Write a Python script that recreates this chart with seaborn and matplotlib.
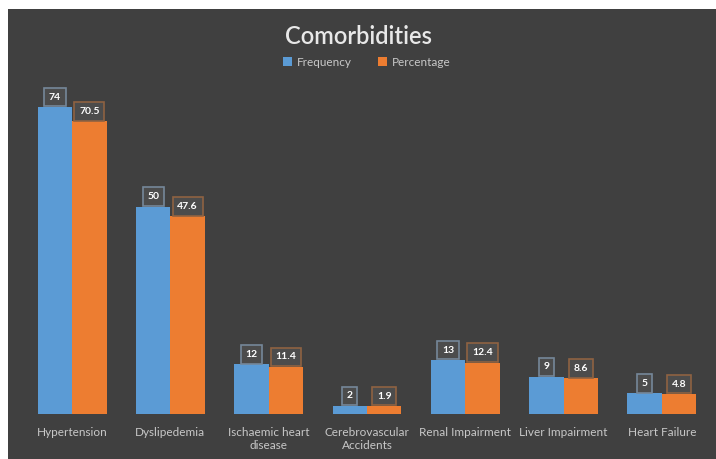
import matplotlib
matplotlib.use("Agg")
import matplotlib.pyplot as plt
import seaborn as sns
import pandas as pd
from matplotlib.patches import Rectangle

categories = ["Hypertension", "Dyslipedemia", "Ischaemic heart\ndisease",
              "Cerebrovascular\nAccidents", "Renal Impairment", "Liver Impairment",
              "Heart Failure"]
frequency = [74, 50, 12, 2, 13, 9, 5]
percentage = [70.5, 47.6, 11.4, 1.9, 12.4, 8.6, 4.8]
freq_labels = ["74", "50", "12", "2", "13", "9", "5"]
pct_labels = ["70.5", "47.6", "11.4", "1.9", "12.4", "8.6", "4.8"]
series = ["Frequency", "Percentage"]

df = pd.DataFrame({
    "Category": categories * 2,
    "Value": frequency + percentage,
    "Series": [series[0]] * len(categories) + [series[1]] * len(categories),
})

BG = "#404040"
BLUE = "#5B9BD5"
ORANGE = "#ED7D31"

sns.set_style("white")
plt.rcParams["font.family"] = ["Lato", "DejaVu Sans"]
fig = plt.figure(figsize=(7.16, 4.59), dpi=100)
fig.patch.set_facecolor("white")
fig.patches.append(Rectangle((8 / 716, 0), 1 - 8 / 716, 1 - 9 / 459,
                             transform=fig.transFigure, facecolor=BG,
                             edgecolor="none", zorder=-10))

ax = fig.add_axes([23 / 716, 1 - 414 / 459, (711 - 23) / 716, (414 - 82) / 459])
ax.set_facecolor(BG)
ax.patch.set_alpha(0)

sns.barplot(data=df, x="Category", y="Value", hue="Series",
            palette=[BLUE, ORANGE], width=0.7, ax=ax, saturation=1,
            edgecolor="none")

ax.set_ylim(0, 80)
ax.set_xlim(-0.5, len(categories) - 0.5)
ax.set_xlabel("")
ax.set_ylabel("")
ax.set_yticks([])
for s in ax.spines.values():
    s.set_visible(False)
ax.tick_params(axis="x", length=0, colors="#c8c8c8", labelsize=8.5, pad=9)
for t in ax.get_xticklabels():
    t.set_linespacing(1.3)

fs = 7.5
pad = 0.45
for container, labels, ec in zip(ax.containers, [freq_labels, pct_labels],
                                 ["#75879a", "#8f6242"]):
    for bar, lab in zip(container, labels):
        x = bar.get_x() + bar.get_width() / 2
        y = bar.get_height()
        ax.annotate(lab, (x, y), xytext=(0, pad * fs + 0.5),
                    textcoords="offset points",
                    ha="center", va="bottom", color="white", fontsize=fs,
                    fontweight="bold",
                    bbox=dict(boxstyle=f"square,pad={pad}", facecolor="#4c4c4c",
                              edgecolor=ec, linewidth=1.2))

leg = ax.legend(loc="center", bbox_to_anchor=(0.5, 1 + 20 / 332), ncol=2,
                frameon=False, fontsize=8.5, handlelength=0.8, handleheight=0.8,
                columnspacing=2.2, handletextpad=0.4)
for t in leg.get_texts():
    t.set_color("#c8c8c8")

fig.text(0.5, 1 - 37 / 459, "Comorbidities", ha="center", va="center",
         color="#e8e8e8", fontsize=17, fontweight="semibold")

fig.savefig("out.png", dpi=100, facecolor=fig.get_facecolor())
